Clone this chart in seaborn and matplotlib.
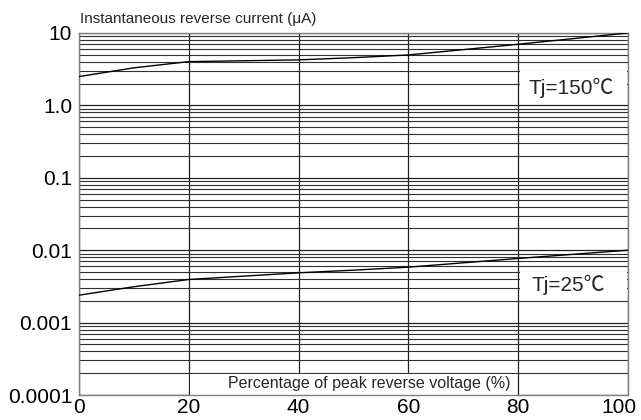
import numpy as np
import pandas as pd
import seaborn as sns
import matplotlib.pyplot as plt
import matplotlib.transforms as mtransforms
from matplotlib.patches import Rectangle
from matplotlib.ticker import LogLocator, FixedLocator, NullFormatter

# values
voltage_pct = [0, 10, 20, 40, 50, 60, 80, 100]
current_150 = [2.50, 3.3, 4.02, 4.25, 4.56, 4.97, 6.98, 10.0]
current_25 = [0.00239, 0.00313, 0.00394, 0.00487, 0.0053, 0.00583, 0.00769, 0.0100]

y_ticks = [0.0001, 0.001, 0.01, 0.1, 1.0, 10]
y_tick_labels = ["0.0001", "0.001", "0.01", "0.1", "1.0", "10"]
x_ticks = [0, 20, 40, 60, 80, 100]

sns.set_style("white")
plt.rcParams['font.family'] = ['Liberation Sans', 'Noto Sans CJK JP', 'DejaVu Sans']
fam = ['Liberation Sans', 'Noto Sans CJK JP']

df = pd.concat([
    pd.DataFrame({"pct": voltage_pct, "current": current_150, "Tj": "150"}),
    pd.DataFrame({"pct": voltage_pct, "current": current_25, "Tj": "25"}),
])

fig = plt.figure(figsize=(6.41, 4.20), dpi=100)
ax = fig.add_axes([0.1232, 0.0595, 0.8565, 0.862])

sns.lineplot(data=df, x="pct", y="current", units="Tj", estimator=None,
             color="black", linewidth=1.0, ax=ax, zorder=3)

ax.set_yscale("log")
ax.set_xlim(0, 100)
ax.set_ylim(0.0001, 10)

ax.xaxis.set_major_locator(FixedLocator(x_ticks))
ax.yaxis.set_major_locator(FixedLocator(y_ticks))
ax.set_yticklabels(y_tick_labels)
ax.yaxis.set_minor_locator(LogLocator(base=10, subs=np.arange(2, 10)))
ax.yaxis.set_minor_formatter(NullFormatter())

ax.set_axisbelow(True)
ax.grid(True, which="major", axis="both", color="#202020", linewidth=0.9)
ax.grid(True, which="minor", axis="y", color="#303030", linewidth=0.8)
ax.tick_params(axis="both", which="both", length=0, labelsize=15, colors="black")
ax.tick_params(axis="y", pad=5)
ax.tick_params(axis="x", pad=2.5)

for s in ax.spines.values():
    s.set_color("#808080")
    s.set_linewidth(1.0)

ax.set_xlabel("")
ax.set_ylabel("")

# last x label sits nudged in so it stays on the canvas
last = ax.get_xticklabels()[-1]
last.set_transform(last.get_transform() +
                   mtransforms.ScaledTranslation(-9 / 100, 0, fig.dpi_scale_trans))

# white label boxes that hide the grid behind the annotations
for (x0, x1, y0, y1) in [(80.25, 99.8, 1.05, 2.95), (80.25, 99.8, 0.00205, 0.00495),
                         (20.25, 79.75, 0.0001, 0.000196)]:
    ax.add_patch(Rectangle((x0, y0), x1 - x0, y1 - y0, facecolor="white",
                           edgecolor="none", zorder=1))

ax.text(89.6, 1.74, "Tj=150℃", ha="center", va="center", fontsize=15, family=fam)
ax.text(89.1, 0.00336, "Tj=25℃", ha="center", va="center", fontsize=15, family=fam)
ax.text(52.8, 0.000142, "Percentage of peak reverse voltage (%)", ha="center",
        va="center", fontsize=11.5)
fig.text(80 / 641, 1 - 19 / 420, "Instantaneous reverse current (μA)", ha="left",
         va="center", fontsize=11)

fig.savefig("out.png", dpi=100)
